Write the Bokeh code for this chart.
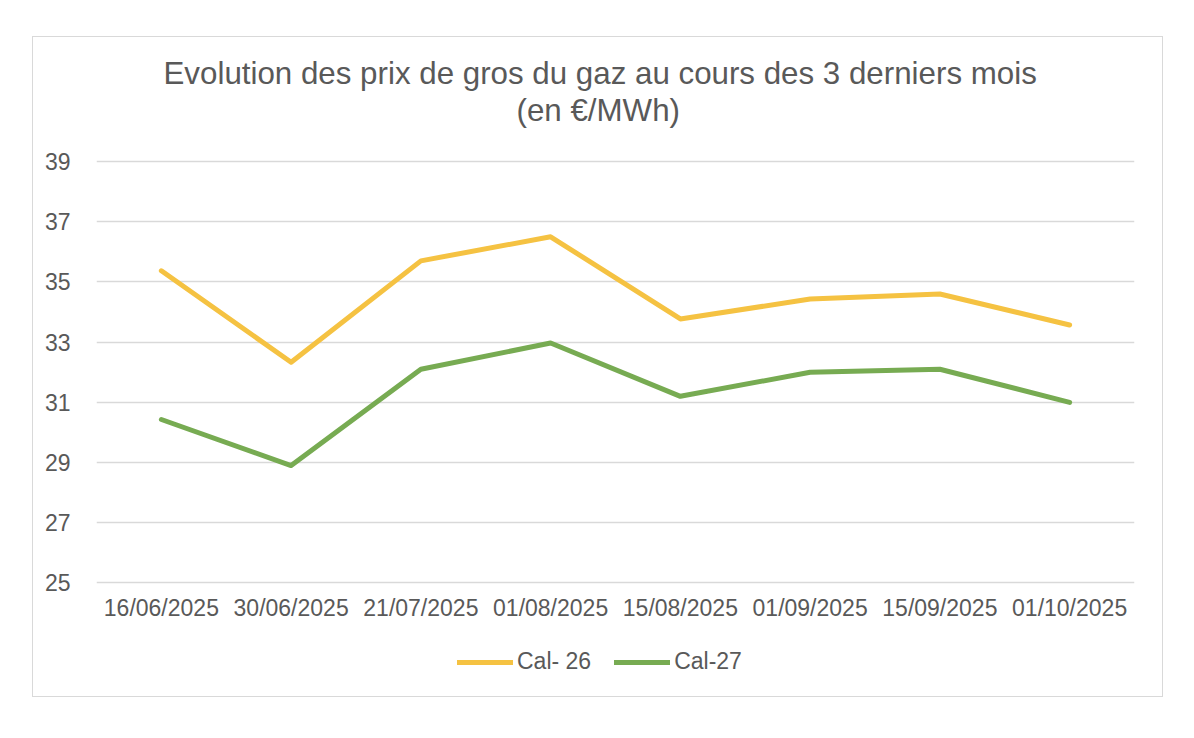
from bokeh.plotting import figure
from bokeh.models import Title, Legend, LegendItem, FixedTicker, Range1d, Spacer
from bokeh.layouts import row, column
from bokeh.embed import file_html
from bokeh.resources import INLINE

dates = ["16/06/2025", "30/06/2025", "21/07/2025", "01/08/2025",
         "15/08/2025", "01/09/2025", "15/09/2025", "01/10/2025"]
cal26 = [35.37, 32.33, 35.70, 36.50, 33.77, 34.43, 34.60, 33.57]
cal27 = [30.43, 28.90, 32.10, 32.97, 31.20, 32.00, 32.10, 31.00]
yticks = [25, 27, 29, 31, 33, 35, 37, 39]

FONT = "Liberation Sans"
TXT = "#595959"

# layout: frame extended above/below the 25..39 band to host title gap and legend
PPU = 30.1            # pixels per unit on y
EXTRA_TOP = 34        # px above the 39 line
EXTRA_BOTTOM = 111.5  # px below the 25 line
y_lo = yticks[0] - EXTRA_BOTTOM / PPU
y_hi = yticks[-1] + EXTRA_TOP / PPU

p = figure(x_range=dates, y_range=Range1d(y_lo, y_hi), width=1131, height=661,
           output_backend="svg", toolbar_location=None,
           min_border_left=63, min_border_right=30, min_border_top=90, min_border_bottom=4)
p.styles = {"border": "1.5px solid #d9d9d9", "box-sizing": "border-box"}
p.outline_line_color = None

p.add_layout(Title(text="(en €/MWh)", align="left", text_font=FONT,
                   text_font_size="31.3px", text_font_style="normal", text_color=TXT,
                   standoff=0, offset=420), "above")
p.add_layout(Title(text="Evolution des prix de gros du gaz au cours des 3 derniers mois",
                   align="left", text_font=FONT, text_font_size="31.3px",
                   text_font_style="normal", text_color=TXT, standoff=0, offset=67), "above")

r1 = p.line(dates, cal26, line_color="#F5C242", line_width=5, line_cap="round", line_join="round")
r2 = p.line(dates, cal27, line_color="#77AB52", line_width=5, line_cap="round", line_join="round")

p.yaxis.ticker = FixedTicker(ticks=yticks)
p.xaxis.fixed_location = yticks[0]
for ax in (p.xaxis[0], p.yaxis[0]):
    ax.axis_line_color = None
    ax.major_tick_line_color = None
    ax.minor_tick_line_color = None
    ax.major_label_text_font = FONT
    ax.major_label_text_font_size = "23px"
    ax.major_label_text_color = TXT
p.xaxis.major_label_standoff = 6
p.yaxis.major_label_standoff = 20
p.xgrid.grid_line_color = None
p.ygrid.grid_line_color = "#D9D9D9"
p.ygrid.grid_line_width = 1.5

legend = Legend(items=[LegendItem(label="Cal- 26", renderers=[r1]),
                       LegendItem(label="Cal-27", renderers=[r2])],
                orientation="horizontal", location=(361, 19),
                label_text_font=FONT, label_text_font_size="23px", label_text_color=TXT,
                glyph_width=56, label_standoff=4, spacing=23, margin=0,
                border_line_color=None, background_fill_alpha=0)
p.add_layout(legend, "center")

layout = column(Spacer(height=36), row(Spacer(width=32), p))
open("out.html", "w").write(file_html(layout, INLINE))
